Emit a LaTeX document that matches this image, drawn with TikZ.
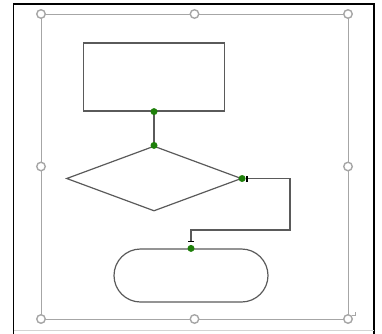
\documentclass[tikz,border=0pt]{standalone}
\usepackage{tikz}
\usetikzlibrary{shapes.geometric,shapes.misc,arrows.meta}

\definecolor{shapegray}{HTML}{5A5A5A}
\definecolor{selgray}{HTML}{A6A6A6}
\definecolor{dotgreen}{HTML}{1E7F0A}

\tikzset{
  shapeline/.style={draw=shapegray, line width=1.2pt, inner sep=0pt},
  handle/.style={circle, draw=selgray, fill=white, line width=1.4pt, minimum size=8.5pt, inner sep=0pt},
  greendot/.style={circle, fill=dotgreen, minimum size=7pt, inner sep=0pt},
  conn/.style={draw=shapegray, line width=1.2pt}
}

\begin{document}
\begin{tikzpicture}[x=1pt, y=-1pt]
   \useasboundingbox (0,0) rectangle (382,333);

   % frame
   \draw[line width=1.3pt] (13.5,340) -- (13.5,4) -- (374,4) -- (374,340);
   \draw[selgray!50, line width=0.8pt] (14,330.5) -- (374,330.5);

   % selection box
   \draw[selgray, line width=0.8pt] (41,14) rectangle (348,319);

   % shapes
   \node[shapeline, rectangle, minimum width=141pt, minimum height=68pt] (proc) at (154,77) {};
   \node[shapeline, diamond, minimum width=175pt, minimum height=65pt] (dec) at (154,178.5) {};
   \node[shapeline, rounded rectangle, minimum width=154pt, minimum height=53pt] (term) at (191,275.5) {};

   \draw[conn] (proc.south) -- (dec.north);

   \coordinate (bend) at (290,230);
   \draw[conn, {Bar[width=6pt,line width=1.6pt,black]}-{Bar[width=6pt,line width=1.6pt,black]},
         shorten <=4pt, shorten >=6pt] (dec.east) -| (bend) -| (term.north);

   % connection points
   \node[greendot] (p1) at (proc.south) {};
   \node[greendot] (p2) at (dec.north) {};
   \node[greendot] (p3) at (dec.east) {};
   \node[greendot] (p4) at (term.north) {};

   % handles
   \foreach \hx/\hy [count=\i] in {41/14, 194.5/14, 348/14, 41/166.5, 348/166.5, 41/319, 194.5/319, 348/319}
      \node[handle] (h\i) at (\hx,\hy) {};
   \draw[selgray, line width=0.6pt] (352,315) -- (355,315) -- (355,312);
\end{tikzpicture}
\end{document}
